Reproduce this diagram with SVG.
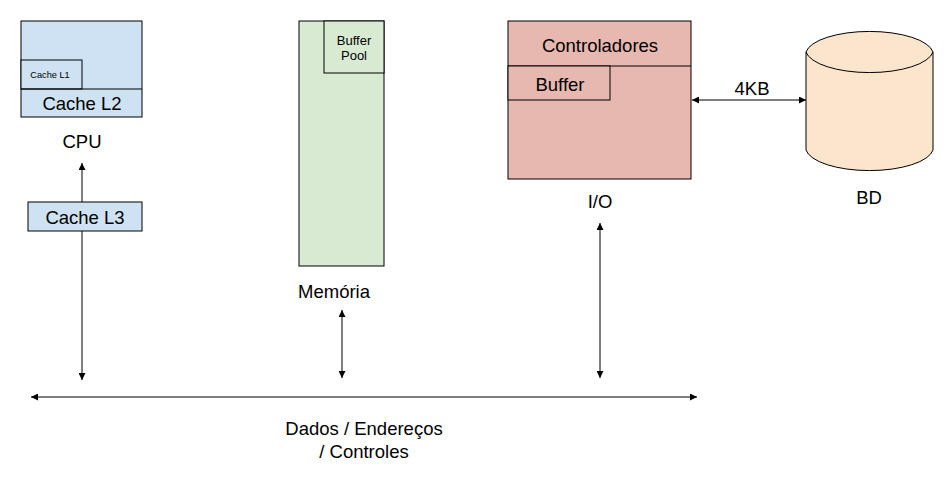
<svg xmlns="http://www.w3.org/2000/svg" width="947" height="480" viewBox="0 0 947 480">
<style>
text{font-family:"Liberation Sans",Arial,sans-serif;fill:#000;text-anchor:middle;dominant-baseline:central}
.b{stroke:#000;stroke-width:1}
.cpu{fill:#cfe2f3}
.mem{fill:#d9ead3}
.io{fill:#e6b8af}
.db{fill:#fce5cd}
.t18{font-size:18.5px}
.ln{stroke:#000;stroke-width:1;fill:none}
</style>
<defs>
<marker id="ah" viewBox="0 0 10 10" refX="10" refY="5" markerWidth="7" markerHeight="7" markerUnits="userSpaceOnUse" orient="auto-start-reverse">
<path d="M0,0L10,5L0,10z" fill="#000"/>
</marker>
</defs>
<rect width="947" height="480" fill="#fff"/>
<g id="cpu">
<rect class="b cpu" x="21" y="21" width="121" height="96"/>
<rect class="b cpu" x="21" y="60" width="61" height="29"/>
<text x="50" y="75" style="font-size:9.2px">Cache L1</text>
<line class="ln" x1="21" y1="89" x2="142" y2="89"/>
<text class="t18" x="82" y="103">Cache L2</text>
<text class="t18" x="82" y="141">CPU</text>
</g>
<g id="cache-l3">
<rect class="b cpu" x="28" y="202" width="114" height="29"/>
<text class="t18" x="85" y="217">Cache L3</text>
</g>
<g id="memoria">
<rect class="b mem" x="299" y="21" width="85" height="245"/>
<rect class="b mem" x="324" y="21" width="60" height="52"/>
<text x="354" y="40" style="font-size:13px">Buffer</text>
<text x="354" y="55" style="font-size:13px">Pool</text>
<text class="t18" x="334" y="291">Memória</text>
</g>
<g id="io">
<rect class="b io" x="508" y="21" width="183" height="158"/>
<line class="ln" x1="508" y1="66" x2="691" y2="66"/>
<text class="t18" x="600" y="45">Controladores</text>
<rect class="b io" x="508" y="66" width="102" height="34"/>
<text class="t18" x="560" y="84">Buffer</text>
<text class="t18" x="600" y="201">I/O</text>
</g>
<g id="bd">
<path class="b db" d="M806,52 L806,150 A64,23.5 0 0 0 933,150 L933,52 A64,23.5 0 0 0 806,52 Z"/>
<path class="ln" d="M806,52 A64,23.5 0 0 0 933,52"/>
<text class="t18" x="869" y="197">BD</text>
</g>
<g id="connectors">
<line class="ln" x1="82" y1="202" x2="82" y2="163" marker-end="url(#ah)"/>
<line class="ln" x1="82" y1="231" x2="82" y2="380" marker-end="url(#ah)"/>
<line class="ln" x1="342" y1="310" x2="342" y2="378" marker-start="url(#ah)" marker-end="url(#ah)"/>
<line class="ln" x1="600" y1="223" x2="600" y2="378" marker-start="url(#ah)" marker-end="url(#ah)"/>
<line class="ln" x1="692" y1="100" x2="806" y2="100" marker-start="url(#ah)" marker-end="url(#ah)"/>
<text class="t18" x="752" y="88">4KB</text>
<line class="ln" x1="31" y1="397" x2="697" y2="397" marker-start="url(#ah)" marker-end="url(#ah)"/>
<text class="t18" x="364" y="428">Dados / Endereços</text>
<text class="t18" x="364" y="451">/ Controles</text>
</g>
</svg>
